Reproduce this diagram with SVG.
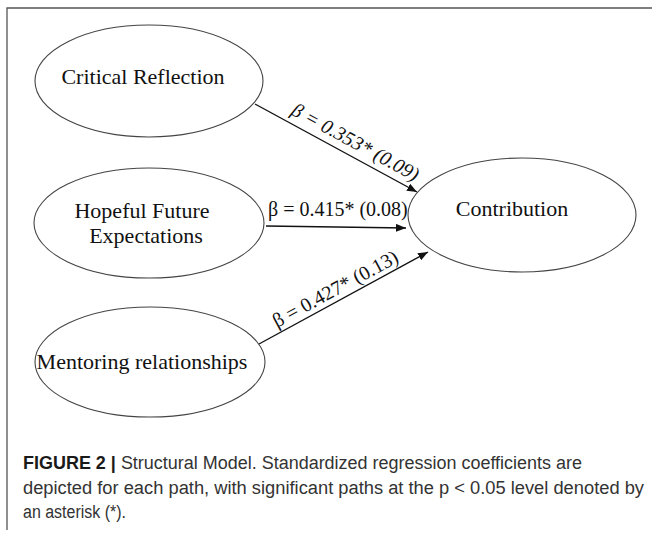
<svg xmlns="http://www.w3.org/2000/svg" width="652" height="534" viewBox="0 0 652 534">
<style>
.node{fill:#fff;stroke:#444;stroke-width:1.1}
.nt{font-family:"Liberation Serif","Times New Roman",serif;font-size:22px;fill:#111;text-anchor:middle}
.lbl{font-family:"Liberation Serif","Times New Roman",serif;font-size:20px;fill:#111}
.edge{stroke:#111;stroke-width:1.4;fill:none;marker-end:url(#ah)}
.cap{font-family:"Liberation Sans",Arial,sans-serif;font-size:18px;fill:#333}
.frame{stroke:#555;stroke-width:1.3;fill:none}
</style>
<defs>
<marker id="ah" viewBox="0 0 10 8" refX="10" refY="4" markerWidth="10" markerHeight="8" markerUnits="userSpaceOnUse" orient="auto">
<path d="M0,0 L10,4 L0,8 Z" fill="#111"/>
</marker>
</defs>
<rect width="652" height="534" fill="#fff"/>
<path class="frame" d="M7,530 L7,8 L652,8"/>
<g id="critical-reflection">
<ellipse class="node" cx="149" cy="81" rx="114" ry="56"/>
<text class="nt" x="143" y="84">Critical Reflection</text>
</g>
<g id="hopeful-future-expectations">
<ellipse class="node" cx="149" cy="223" rx="115" ry="55"/>
<text class="nt" x="142" y="218">Hopeful Future</text>
<text class="nt" x="146" y="243">Expectations</text>
</g>
<g id="mentoring-relationships">
<ellipse class="node" cx="150" cy="362" rx="115" ry="55"/>
<text class="nt" x="142" y="369">Mentoring relationships</text>
</g>
<g id="contribution">
<ellipse class="node" cx="522" cy="215" rx="114" ry="57"/>
<text class="nt" x="512" y="216">Contribution</text>
</g>
<g id="connectors">
<line class="edge" x1="255" y1="104" x2="417" y2="192"/>
<line class="edge" x1="266" y1="226" x2="406" y2="228"/>
<line class="edge" x1="259" y1="344" x2="428" y2="252"/>
<text class="lbl" font-style="italic" transform="translate(290,114) rotate(28.5)">β = 0.353* (0.09)</text>
<text class="lbl" x="268" y="216">β = 0.415* (0.08)</text>
<text class="lbl" transform="translate(277,328) rotate(-28.5)">β = 0.427* (0.13)</text>
</g>
<g id="caption">
<text class="cap" x="23" y="469" textLength="559" lengthAdjust="spacingAndGlyphs"><tspan font-weight="bold" fill="#1a1a1a">FIGURE 2 |</tspan> Structural Model. Standardized regression coefficients are</text>
<text class="cap" x="23" y="494" textLength="621" lengthAdjust="spacingAndGlyphs">depicted for each path, with significant paths at the p &lt; 0.05 level denoted by</text>
<text class="cap" x="23" y="518" textLength="103" lengthAdjust="spacingAndGlyphs">an asterisk (*).</text>
</g>
</svg>
